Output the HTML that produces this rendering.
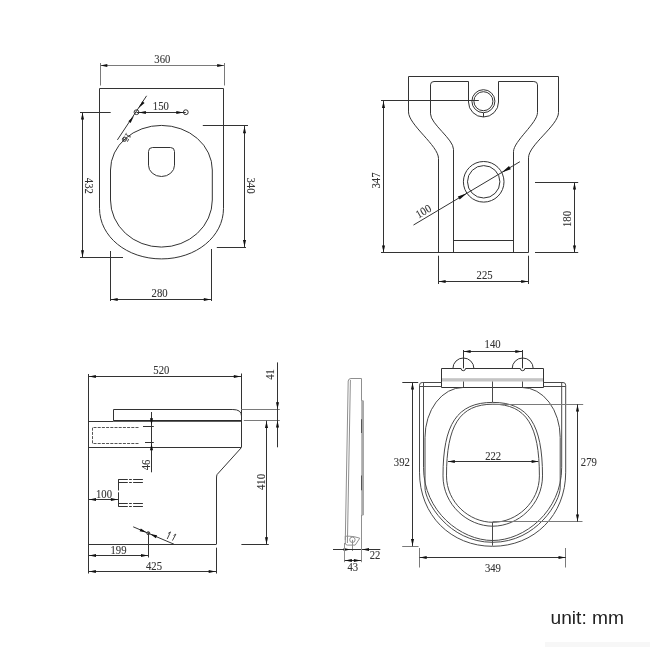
<!DOCTYPE html>
<html><head><meta charset="utf-8"><style>html,body{margin:0;padding:0;background:#fff;}svg{display:block;filter:grayscale(1);}</style></head>
<body><svg width="650" height="650" viewBox="0 0 650 650"><line x1="100.50" y1="63.00" x2="100.50" y2="85.50" stroke="#7a7a7a" stroke-width="1" />
<line x1="224.50" y1="63.00" x2="224.50" y2="85.50" stroke="#7a7a7a" stroke-width="1" />
<line x1="100.00" y1="65.50" x2="224.30" y2="65.50" stroke="#7a7a7a" stroke-width="1" />
<polygon points="100.50,65.50 107.30,63.95 107.30,67.05" fill="#111111"/>
<polygon points="224.00,65.50 217.20,67.05 217.20,63.95" fill="#111111"/>
<g transform="translate(162.3 59.5) rotate(0) scale(0.92 1)"><text x="0" y="3.83" font-size="11.6" font-family="Liberation Serif" fill="#333333" stroke="#333333" stroke-width="0.1" text-anchor="middle" >360</text></g>
<path d="M99.5,88.5 H223.5 V208.3 C223.5,236.6 196.2,258.9 161.5,258.9 C126.8,258.9 99.5,236.6 99.5,208.3 Z" stroke="#333333" stroke-width="1" fill="none" />
<path d="M110.5,170 V200 A50.9,47.1 0 0 0 212.3,200 V170 A50.9,44.6 0 0 0 110.5,170 Z" stroke="#333333" stroke-width="1" fill="none" />
<path d="M148.5,165.2 V151.5 Q148.5,147.5 152.5,147.5 H170.5 Q174.5,147.5 174.5,151.5 V165.2 A13,11.3 0 0 1 148.5,165.2 Z" stroke="#333333" stroke-width="1" fill="none" />
<circle cx="136.5" cy="112.2" r="2.4" stroke="#333333" stroke-width="1" fill="none"/>
<circle cx="185.8" cy="112.2" r="2.4" stroke="#333333" stroke-width="1" fill="none"/>
<line x1="136.50" y1="112.50" x2="185.80" y2="112.50" stroke="#333333" stroke-width="1" />
<polygon points="138.90,112.50 145.90,111.10 145.90,113.90" fill="#111111"/>
<polygon points="183.30,112.50 176.30,113.90 176.30,111.10" fill="#111111"/>
<g transform="translate(160.8 105.9) rotate(0) scale(0.92 1)"><text x="0" y="3.83" font-size="11.6" font-family="Liberation Serif" fill="#333333" stroke="#333333" stroke-width="0.1" text-anchor="middle" >150</text></g>
<line x1="80.00" y1="112.50" x2="110.70" y2="112.50" stroke="#333333" stroke-width="1" />
<line x1="202.80" y1="125.50" x2="248.00" y2="125.50" stroke="#333333" stroke-width="1" />
<line x1="82.50" y1="112.30" x2="82.50" y2="257.60" stroke="#333333" stroke-width="1" />
<polygon points="82.50,112.80 84.05,119.60 80.95,119.60" fill="#111111"/>
<polygon points="82.50,257.10 80.95,250.30 84.05,250.30" fill="#111111"/>
<g transform="translate(89 185.8) rotate(90) scale(0.92 1)"><text x="0" y="3.83" font-size="11.6" font-family="Liberation Serif" fill="#333333" stroke="#333333" stroke-width="0.1" text-anchor="middle" >432</text></g>
<line x1="80.00" y1="257.50" x2="123.00" y2="257.50" stroke="#333333" stroke-width="1" />
<line x1="110.50" y1="251.00" x2="110.50" y2="301.00" stroke="#333333" stroke-width="1" />
<line x1="216.80" y1="247.50" x2="246.00" y2="247.50" stroke="#333333" stroke-width="1" />
<line x1="244.50" y1="125.90" x2="244.50" y2="247.20" stroke="#333333" stroke-width="1" />
<polygon points="244.50,126.40 246.05,133.20 242.95,133.20" fill="#111111"/>
<polygon points="244.50,246.70 242.95,239.90 246.05,239.90" fill="#111111"/>
<g transform="translate(250.5 185.5) rotate(90) scale(0.92 1)"><text x="0" y="3.83" font-size="11.6" font-family="Liberation Serif" fill="#333333" stroke="#333333" stroke-width="0.1" text-anchor="middle" >340</text></g>
<line x1="211.50" y1="249.00" x2="211.50" y2="301.00" stroke="#333333" stroke-width="1" />
<line x1="110.40" y1="299.50" x2="211.10" y2="299.50" stroke="#333333" stroke-width="1" />
<polygon points="110.90,299.50 117.70,297.95 117.70,301.05" fill="#111111"/>
<polygon points="210.60,299.50 203.80,301.05 203.80,297.95" fill="#111111"/>
<g transform="translate(159.6 293.2) rotate(0) scale(0.92 1)"><text x="0" y="3.83" font-size="11.6" font-family="Liberation Serif" fill="#333333" stroke="#333333" stroke-width="0.1" text-anchor="middle" >280</text></g>
<line x1="117.40" y1="139.90" x2="146.60" y2="95.80" stroke="#333333" stroke-width="1" />
<polygon points="133.90,116.00 130.59,122.88 128.34,121.22" fill="#111111"/>
<polygon points="138.40,108.20 142.40,101.13 144.56,102.91" fill="#111111"/>
<circle cx="124.4" cy="139.4" r="2" stroke="#333333" stroke-width="1" fill="none"/>
<g transform="translate(127 137.3) rotate(124) scale(0.92 1)"><text x="0" y="2.97" font-size="9" font-family="Liberation Serif" fill="#333333" stroke="#333333" stroke-width="0.1" text-anchor="middle" >15</text></g>
<path d="M408.5,111.9 V76.5 H558.5 V112.5" stroke="#333333" stroke-width="1" fill="none" />
<path d="M408.5,111.9 C408.5,124.8 438.5,145.6 438.5,158.5 V252.5" stroke="#333333" stroke-width="1" fill="none" />
<path d="M558.5,112.5 C558.5,125.4 528.5,144.9 528.5,157.8 V252.5" stroke="#333333" stroke-width="1" fill="none" />
<line x1="381.00" y1="252.50" x2="528.50" y2="252.50" stroke="#333333" stroke-width="1" />
<line x1="535.00" y1="252.50" x2="578.20" y2="252.50" stroke="#333333" stroke-width="1" />
<path d="M453.5,252.5 V149.3 C453.5,139.2 430.5,123.9 430.5,113.8 V84.8 Q430.5,81.5 434,81.5 H468.5 V102 A15,15 0 0 0 498.5,102 V81.5 H533.8 Q537.5,81.5 537.5,84.8 V112.5 C537.5,123 513.5,141.2 513.5,151.7 V252.5" stroke="#333333" stroke-width="1" fill="none" />
<line x1="453.50" y1="240.50" x2="513.50" y2="240.50" stroke="#333333" stroke-width="1" />
<circle cx="483.4" cy="101.2" r="11.5" stroke="#333333" stroke-width="1" fill="none"/>
<circle cx="483.4" cy="101.2" r="9.5" stroke="#333333" stroke-width="1" fill="none"/>
<line x1="483.50" y1="113.00" x2="483.50" y2="117.00" stroke="#333333" stroke-width="1" />
<circle cx="483.7" cy="181.8" r="20.3" stroke="#333333" stroke-width="1" fill="none"/>
<circle cx="483.7" cy="181.8" r="16.2" stroke="#333333" stroke-width="1" fill="none"/>
<line x1="381.00" y1="100.50" x2="478.80" y2="100.50" stroke="#333333" stroke-width="1" />
<line x1="383.50" y1="100.80" x2="383.50" y2="252.20" stroke="#333333" stroke-width="1" />
<polygon points="383.50,101.30 385.05,108.10 381.95,108.10" fill="#111111"/>
<polygon points="383.50,252.20 381.95,245.40 385.05,245.40" fill="#111111"/>
<g transform="translate(375.7 180.5) rotate(-90) scale(0.92 1)"><text x="0" y="3.83" font-size="11.6" font-family="Liberation Serif" fill="#333333" stroke="#333333" stroke-width="0.1" text-anchor="middle" >347</text></g>
<line x1="413.50" y1="225.00" x2="519.90" y2="161.70" stroke="#333333" stroke-width="1" />
<polygon points="466.92,193.22 459.67,199.62 457.83,196.53" fill="#111111"/>
<polygon points="501.74,172.50 508.99,166.10 510.83,169.19" fill="#111111"/>
<g transform="translate(423.4 211.4) rotate(-30.7) scale(0.92 1)"><text x="0" y="3.83" font-size="11.6" font-family="Liberation Serif" fill="#333333" stroke="#333333" stroke-width="0.1" text-anchor="middle" >100</text></g>
<line x1="535.00" y1="182.50" x2="578.20" y2="182.50" stroke="#333333" stroke-width="1" />
<line x1="574.50" y1="182.30" x2="574.50" y2="252.70" stroke="#333333" stroke-width="1" />
<polygon points="574.50,182.80 576.05,189.60 572.95,189.60" fill="#111111"/>
<polygon points="574.50,252.20 572.95,245.40 576.05,245.40" fill="#111111"/>
<g transform="translate(567 219) rotate(-90) scale(0.92 1)"><text x="0" y="3.83" font-size="11.6" font-family="Liberation Serif" fill="#333333" stroke="#333333" stroke-width="0.1" text-anchor="middle" >180</text></g>
<line x1="438.50" y1="255.70" x2="438.50" y2="284.00" stroke="#333333" stroke-width="1" />
<line x1="528.50" y1="255.70" x2="528.50" y2="284.00" stroke="#333333" stroke-width="1" />
<line x1="438.30" y1="281.50" x2="528.30" y2="281.50" stroke="#333333" stroke-width="1" />
<polygon points="438.80,281.50 445.60,279.95 445.60,283.05" fill="#111111"/>
<polygon points="528.00,281.50 521.20,283.05 521.20,279.95" fill="#111111"/>
<g transform="translate(484.6 275) rotate(0) scale(0.92 1)"><text x="0" y="3.83" font-size="11.6" font-family="Liberation Serif" fill="#333333" stroke="#333333" stroke-width="0.1" text-anchor="middle" >225</text></g>
<line x1="88.50" y1="374.00" x2="88.50" y2="573.50" stroke="#333333" stroke-width="1" />
<line x1="241.50" y1="373.50" x2="241.50" y2="447.30" stroke="#333333" stroke-width="1" />
<line x1="88.60" y1="376.50" x2="241.10" y2="376.50" stroke="#333333" stroke-width="1" />
<polygon points="89.10,376.50 95.90,374.95 95.90,378.05" fill="#111111"/>
<polygon points="240.60,376.50 233.80,378.05 233.80,374.95" fill="#111111"/>
<g transform="translate(161.3 369.9) rotate(0) scale(0.92 1)"><text x="0" y="3.83" font-size="11.6" font-family="Liberation Serif" fill="#333333" stroke="#333333" stroke-width="0.1" text-anchor="middle" >520</text></g>
<path d="M113.5,420.8 V409.5 H232.8 Q241.5,409.5 241.5,416" stroke="#333333" stroke-width="1" fill="none" />
<line x1="241.10" y1="409.50" x2="279.80" y2="409.50" stroke="#7a7a7a" stroke-width="1" />
<line x1="88.60" y1="421.50" x2="113.50" y2="421.50" stroke="#333333" stroke-width="1" />
<line x1="113.5" y1="420.9" x2="241.5" y2="420.9" stroke="#2a2a2a" stroke-width="1.6"/>
<line x1="243.80" y1="420.50" x2="279.80" y2="420.50" stroke="#7a7a7a" stroke-width="1" />
<path d="M138.5,427.5 H92.5 V443.5 H138.5" stroke="#555" stroke-width="1" fill="none" stroke-dasharray="3,1.2"/>
<line x1="143.00" y1="426.50" x2="153.80" y2="426.50" stroke="#333333" stroke-width="1" />
<line x1="145.00" y1="442.50" x2="153.80" y2="442.50" stroke="#333333" stroke-width="1" />
<line x1="88.60" y1="447.50" x2="241.10" y2="447.50" stroke="#333333" stroke-width="1" />
<path d="M241.5,447.5 L217.1,474.5 Q216.5,475.8 216.5,478 V544.5" stroke="#333333" stroke-width="1" fill="none" />
<line x1="88.60" y1="544.50" x2="216.00" y2="544.50" stroke="#333333" stroke-width="1" />
<line x1="151.50" y1="412.00" x2="151.50" y2="472.30" stroke="#333333" stroke-width="1" />
<polygon points="151.50,425.00 149.95,418.20 153.05,418.20" fill="#111111"/>
<polygon points="151.50,443.50 153.05,450.30 149.95,450.30" fill="#111111"/>
<g transform="translate(146 465) rotate(-90) scale(0.92 1)"><text x="0" y="3.83" font-size="11.6" font-family="Liberation Serif" fill="#333333" stroke="#333333" stroke-width="0.1" text-anchor="middle" >46</text></g>
<line x1="277.50" y1="362.40" x2="277.50" y2="447.30" stroke="#333333" stroke-width="1" />
<polygon points="277.50,409.10 275.95,402.30 279.05,402.30" fill="#111111"/>
<polygon points="277.50,420.70 279.05,427.50 275.95,427.50" fill="#111111"/>
<g transform="translate(270.6 374.4) rotate(-90) scale(0.92 1)"><text x="0" y="3.83" font-size="11.6" font-family="Liberation Serif" fill="#333333" stroke="#333333" stroke-width="0.1" text-anchor="middle" >41</text></g>
<line x1="266.50" y1="420.70" x2="266.50" y2="544.50" stroke="#333333" stroke-width="1" />
<polygon points="266.50,421.20 268.05,428.00 264.95,428.00" fill="#111111"/>
<polygon points="266.50,544.00 264.95,537.20 268.05,537.20" fill="#111111"/>
<g transform="translate(261.2 482) rotate(-90) scale(0.92 1)"><text x="0" y="3.83" font-size="11.6" font-family="Liberation Serif" fill="#333333" stroke="#333333" stroke-width="0.1" text-anchor="middle" >410</text></g>
<line x1="241.40" y1="544.50" x2="268.80" y2="544.50" stroke="#333333" stroke-width="1" />
<line x1="118.50" y1="479.30" x2="118.50" y2="490.50" stroke="#333333" stroke-width="1" />
<line x1="118.50" y1="492.30" x2="118.50" y2="506.50" stroke="#333333" stroke-width="1" />
<line x1="118.30" y1="479.50" x2="127.80" y2="479.50" stroke="#333333" stroke-width="1" />
<line x1="129.10" y1="479.50" x2="131.80" y2="479.50" stroke="#333333" stroke-width="1" />
<line x1="133.10" y1="479.50" x2="142.90" y2="479.50" stroke="#333333" stroke-width="1" />
<line x1="118.30" y1="482.50" x2="127.80" y2="482.50" stroke="#333333" stroke-width="1" />
<line x1="129.10" y1="482.50" x2="131.80" y2="482.50" stroke="#333333" stroke-width="1" />
<line x1="133.10" y1="482.50" x2="142.90" y2="482.50" stroke="#333333" stroke-width="1" />
<line x1="118.30" y1="503.50" x2="127.80" y2="503.50" stroke="#333333" stroke-width="1" />
<line x1="129.10" y1="503.50" x2="131.80" y2="503.50" stroke="#333333" stroke-width="1" />
<line x1="133.10" y1="503.50" x2="142.90" y2="503.50" stroke="#333333" stroke-width="1" />
<line x1="118.30" y1="506.50" x2="127.80" y2="506.50" stroke="#333333" stroke-width="1" />
<line x1="129.10" y1="506.50" x2="131.80" y2="506.50" stroke="#333333" stroke-width="1" />
<line x1="133.10" y1="506.50" x2="142.90" y2="506.50" stroke="#333333" stroke-width="1" />
<line x1="88.70" y1="499.50" x2="118.20" y2="499.50" stroke="#333333" stroke-width="1" />
<polygon points="89.20,499.50 96.00,497.95 96.00,501.05" fill="#111111"/>
<polygon points="117.70,499.50 110.90,501.05 110.90,497.95" fill="#111111"/>
<g transform="translate(104 493.7) rotate(0) scale(0.92 1)"><text x="0" y="3.83" font-size="11.6" font-family="Liberation Serif" fill="#333333" stroke="#333333" stroke-width="0.1" text-anchor="middle" >100</text></g>
<line x1="88.70" y1="555.50" x2="148.30" y2="555.50" stroke="#333333" stroke-width="1" />
<polygon points="89.20,555.50 96.00,553.95 96.00,557.05" fill="#111111"/>
<polygon points="147.80,555.50 141.00,557.05 141.00,553.95" fill="#111111"/>
<line x1="148.50" y1="532.30" x2="148.50" y2="557.50" stroke="#333333" stroke-width="1" />
<circle cx="148.3" cy="533.2" r="1.5" stroke="#333333" stroke-width="1" fill="none"/>
<g transform="translate(118.5 550) rotate(0) scale(0.92 1)"><text x="0" y="3.83" font-size="11.6" font-family="Liberation Serif" fill="#333333" stroke="#333333" stroke-width="0.1" text-anchor="middle" >199</text></g>
<line x1="133.20" y1="526.80" x2="174.20" y2="544.30" stroke="#333333" stroke-width="1" />
<polygon points="146.50,532.50 139.64,531.25 140.86,528.40" fill="#111111"/>
<polygon points="150.20,534.10 157.06,535.35 155.84,538.20" fill="#111111"/>
<path d="M167.2,539 L170.5,531.9 L168.2,533.4 M172.4,540.6 L175.9,534.1 L173.6,535.5" stroke="#444" stroke-width="1" fill="none" />
<line x1="216.50" y1="547.70" x2="216.50" y2="573.50" stroke="#333333" stroke-width="1" />
<line x1="88.60" y1="571.50" x2="216.00" y2="571.50" stroke="#333333" stroke-width="1" />
<polygon points="89.10,571.50 95.90,569.95 95.90,573.05" fill="#111111"/>
<polygon points="215.50,571.50 208.70,573.05 208.70,569.95" fill="#111111"/>
<g transform="translate(154 566) rotate(0) scale(0.92 1)"><text x="0" y="3.83" font-size="11.6" font-family="Liberation Serif" fill="#333333" stroke="#333333" stroke-width="0.1" text-anchor="middle" >425</text></g>
<path d="M345.3,540 L348.2,381 Q348.5,378.5 351,378.5 H361.5 V400.8 H363.3 V515 H361.5" stroke="#8f8f8f" stroke-width="1" fill="none" />
<path d="M345.3,536 V543 Q345.3,545.1 347.5,545.1 H355.2 L359.8,538.2" stroke="#8f8f8f" stroke-width="1" fill="none" />
<path d="M345.3,536.2 H349.2 Q354,536.2 359.8,538.2" stroke="#8f8f8f" stroke-width="1" fill="none" />
<path d="M350.4,380 L347.4,543" stroke="#8f8f8f" stroke-width="1" fill="none" />
<rect x="361.2" y="401" width="2.2" height="114" fill="#aaaaaa"/>
<line x1="361.50" y1="419.20" x2="361.50" y2="433.00" stroke="#555" stroke-width="1" />
<line x1="361.50" y1="475.50" x2="361.50" y2="490.30" stroke="#555" stroke-width="1" />
<circle cx="352.4" cy="539.8" r="2.7" stroke="#8f8f8f" stroke-width="1" fill="none"/>
<line x1="352.50" y1="539.80" x2="352.50" y2="551.00" stroke="#8f8f8f" stroke-width="1" />
<line x1="333.00" y1="549.50" x2="380.30" y2="549.50" stroke="#333333" stroke-width="1" />
<polygon points="350.40,549.50 343.60,551.05 343.60,547.95" fill="#111111"/>
<polygon points="362.20,549.50 369.00,547.95 369.00,551.05" fill="#111111"/>
<line x1="344.50" y1="543.00" x2="344.50" y2="562.20" stroke="#8f8f8f" stroke-width="1" />
<line x1="361.50" y1="515.00" x2="361.50" y2="562.20" stroke="#8f8f8f" stroke-width="1" />
<line x1="344.60" y1="560.50" x2="361.20" y2="560.50" stroke="#333333" stroke-width="1" />
<polygon points="345.10,560.50 351.90,558.95 351.90,562.05" fill="#111111"/>
<polygon points="360.70,560.50 353.90,562.05 353.90,558.95" fill="#111111"/>
<g transform="translate(375 555.3) rotate(0) scale(0.92 1)"><text x="0" y="3.83" font-size="11.6" font-family="Liberation Serif" fill="#333333" stroke="#333333" stroke-width="0.1" text-anchor="middle" >22</text></g>
<g transform="translate(352.8 566.7) rotate(0) scale(0.92 1)"><text x="0" y="3.83" font-size="11.6" font-family="Liberation Serif" fill="#333333" stroke="#333333" stroke-width="0.1" text-anchor="middle" >43</text></g>
<line x1="463.50" y1="350.00" x2="463.50" y2="368.30" stroke="#333333" stroke-width="1" />
<line x1="522.50" y1="350.00" x2="522.50" y2="368.30" stroke="#333333" stroke-width="1" />
<line x1="463.30" y1="351.50" x2="522.60" y2="351.50" stroke="#333333" stroke-width="1" />
<polygon points="463.80,351.50 470.60,349.95 470.60,353.05" fill="#111111"/>
<polygon points="522.10,351.50 515.30,353.05 515.30,349.95" fill="#111111"/>
<g transform="translate(492.6 344) rotate(0) scale(0.92 1)"><text x="0" y="3.83" font-size="11.6" font-family="Liberation Serif" fill="#333333" stroke="#333333" stroke-width="0.1" text-anchor="middle" >140</text></g>
<path d="M452.9,368.5 A10.5,10.5 0 0 1 473.9,368.5" stroke="#333333" stroke-width="1" fill="none" />
<path d="M512.2,368.5 A10.5,10.5 0 0 1 533.2,368.5" stroke="#333333" stroke-width="1" fill="none" />
<rect x="441.5" y="378.2" width="102.5" height="3.3" fill="#c4c4c4"/>
<path d="M441.5,387.5 V368.5 H461.1 A2.2,2.2 0 0 0 465.5,368.5 H520.4 A2.2,2.2 0 0 0 524.8,368.5 H543.5 V387.5 Z" stroke="#333333" stroke-width="1" fill="none" />
<line x1="463.50" y1="381.50" x2="463.50" y2="387.00" stroke="#4a4a4a" stroke-width="1" />
<line x1="522.50" y1="381.50" x2="522.50" y2="387.00" stroke="#4a4a4a" stroke-width="1" />
<line x1="492.50" y1="381.50" x2="492.50" y2="402.20" stroke="#4a4a4a" stroke-width="1" />
<path d="M441.5,382.5 H422.2 Q419.5,382.5 419.5,385.2 V472.2 C419.50,515.18 450.93,546.30 492.60,546.30 C534.27,546.30 565.70,515.18 565.70,472.20 V385.2 Q565.7,382.5 563,382.5 H543.5" stroke="#4a4a4a" stroke-width="1" fill="none" />
<path d="M419.5,386.5 H441.5 M543.5,386.5 H565.7 M423.5,382.5 V467.3 C423.50,511.22 460.81,540.50 492.60,540.50 C524.39,540.50 561.70,511.22 561.70,467.30 V382.5" stroke="#4a4a4a" stroke-width="1" fill="none" />
<path d="M463,387.5 A38,50 0 0 0 425,437.5 V487.9 C425.00,500.96 447.98,542.30 492.60,542.30 C537.22,542.30 560.20,500.96 560.20,487.90 V437.5 A38,50 0 0 0 522.2,387.5" stroke="#4a4a4a" stroke-width="1" fill="none" />
<path d="M492.75,402.40 C456.93,402.40 443.00,424.45 443.00,475.90 V475.90 C443.00,504.57 467.38,526.20 492.75,526.20 C518.12,526.20 542.50,504.57 542.50,475.90 V475.90 C542.50,424.45 528.57,402.40 492.75,402.40 Z" stroke="#4a4a4a" stroke-width="1" fill="none" />
<path d="M492.95,404.20 C459.51,404.20 446.50,425.71 446.50,475.90 V475.90 C446.50,502.35 469.26,522.30 492.95,522.30 C516.64,522.30 539.40,502.35 539.40,475.90 V475.90 C539.40,425.71 526.39,404.20 492.95,404.20 Z" stroke="#4a4a4a" stroke-width="1" fill="none" />
<line x1="492.50" y1="522.30" x2="492.50" y2="545.70" stroke="#4a4a4a" stroke-width="1" />
<line x1="402.30" y1="382.50" x2="418.20" y2="382.50" stroke="#333333" stroke-width="1" />
<line x1="402.20" y1="546.50" x2="418.50" y2="546.50" stroke="#7a7a7a" stroke-width="1" />
<line x1="412.50" y1="382.30" x2="412.50" y2="546.30" stroke="#333333" stroke-width="1" />
<polygon points="412.50,382.80 414.05,389.60 410.95,389.60" fill="#111111"/>
<polygon points="412.50,545.80 410.95,539.00 414.05,539.00" fill="#111111"/>
<g transform="translate(401.8 462) rotate(0) scale(0.92 1)"><text x="0" y="3.83" font-size="11.6" font-family="Liberation Serif" fill="#333333" stroke="#333333" stroke-width="0.1" text-anchor="middle" >392</text></g>
<line x1="492.60" y1="404.50" x2="583.20" y2="404.50" stroke="#7a7a7a" stroke-width="1" />
<line x1="492.60" y1="521.50" x2="582.50" y2="521.50" stroke="#7a7a7a" stroke-width="1" />
<line x1="577.50" y1="404.20" x2="577.50" y2="521.70" stroke="#333333" stroke-width="1" />
<polygon points="577.50,404.70 579.05,411.50 575.95,411.50" fill="#111111"/>
<polygon points="577.50,521.20 575.95,514.40 579.05,514.40" fill="#111111"/>
<g transform="translate(588.8 462.3) rotate(0) scale(0.92 1)"><text x="0" y="3.83" font-size="11.6" font-family="Liberation Serif" fill="#333333" stroke="#333333" stroke-width="0.1" text-anchor="middle" >279</text></g>
<line x1="448.00" y1="461.50" x2="538.40" y2="461.50" stroke="#333333" stroke-width="1" />
<polygon points="448.00,461.50 454.80,459.95 454.80,463.05" fill="#111111"/>
<polygon points="538.40,461.50 531.60,463.05 531.60,459.95" fill="#111111"/>
<g transform="translate(493.2 456) rotate(0) scale(0.92 1)"><text x="0" y="3.83" font-size="11.6" font-family="Liberation Serif" fill="#333333" stroke="#333333" stroke-width="0.1" text-anchor="middle" >222</text></g>
<line x1="419.50" y1="548.00" x2="419.50" y2="567.50" stroke="#7a7a7a" stroke-width="1" />
<line x1="565.50" y1="548.00" x2="565.50" y2="567.50" stroke="#7a7a7a" stroke-width="1" />
<line x1="419.40" y1="557.50" x2="565.80" y2="557.50" stroke="#333333" stroke-width="1" />
<polygon points="419.90,557.50 426.70,555.95 426.70,559.05" fill="#111111"/>
<polygon points="565.30,557.50 558.50,559.05 558.50,555.95" fill="#111111"/>
<g transform="translate(492.9 567.8) rotate(0) scale(0.92 1)"><text x="0" y="3.83" font-size="11.6" font-family="Liberation Serif" fill="#333333" stroke="#333333" stroke-width="0.1" text-anchor="middle" >349</text></g>
<rect x="545" y="642" width="105" height="5" fill="#f7f7f7"/>
<text x="550.5" y="624" font-size="19.2" font-family="Liberation Sans" fill="#222">unit: mm</text></svg></body></html>
